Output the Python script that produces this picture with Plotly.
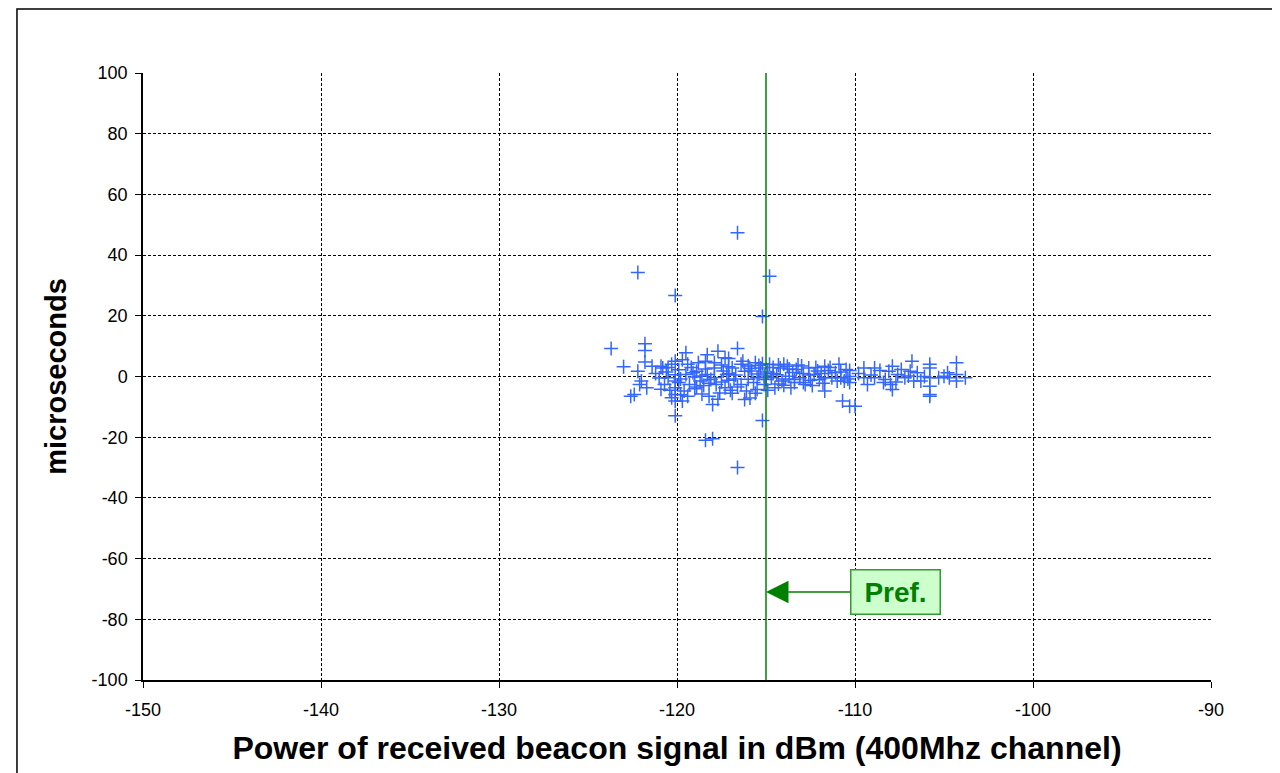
import plotly.graph_objects as go

# ---- data ----
power_dbm = [
    -116.6, -122.2, -120.1, -114.8, -115.2, -120.1, -118.4, -118.0, -116.6, -115.2,
    -123.7, -121.8, -121.8, -123.0, -121.8, -121.4, -122.2, -122.1, -122.4, -122.6,
    -122.0, -121.7, -120.9, -120.8, -120.3, -120.1, -120.1, -120.1, -120.1, -120.1,
    -120.1, -119.7, -120.5, -120.7, -119.5, -119.4, -119.5, -119.3, -119.6, -118.9,
    -118.7, -118.3, -118.3, -118.2, -118.0, -117.7, -117.9, -117.8, -117.6, -117.3,
    -117.2, -117.3,
    -116.6, -117.1, -117.1, -117.1, -117.0, -116.3, -116.2, -116.4, -116.2, -115.9,
    -115.6, -115.5, -115.5, -115.3, -115.1, -114.8, -114.7, -114.5, -114.2, -114.1,
    -113.8, -113.7, -113.6, -113.3, -113.1, -112.8, -112.6, -112.3, -112.0, -111.7,
    -111.7, -111.7, -111.3, -110.9, -110.8, -110.5, -110.7, -110.3,
    -110.3, -110.3, -110.3, -110.0, -109.5, -109.5, -109.3, -108.9, -108.9, -108.3,
    -108.1, -108.0, -107.9, -107.9, -107.6, -107.4, -107.2, -106.9, -106.8, -106.7,
    -106.3, -105.8, -105.8, -105.8, -105.8, -105.8, -105.8, -105.3, -105.0, -104.8,
    -104.7, -104.3, -104.3, -104.3, -103.8,
    -121.0, -120.6, -120.4, -119.9, -119.8, -119.8, -119.2, -119.0, -119.0, -118.8,
    -118.6, -118.5, -118.4, -118.1, -117.9, -117.5, -117.5, -116.9, -116.8, -116.6,
    -116.0, -116.0, -115.8, -115.7, -115.4, -115.2, -115.0, -114.9, -114.6, -114.4,
    -114.3, -114.0, -113.9, -113.5, -113.4, -113.0, -112.9, -112.5, -112.2, -111.9,
    -111.5, -111.1, -110.6,
    -121.2, -120.9, -120.5, -120.3, -119.9, -119.7, -119.4, -119.1, -118.9, -118.6,
    -118.4, -118.2, -117.9, -117.7, -117.4, -117.1, -116.9, -116.7, -116.4, -116.1,
    -115.9, -115.6, -115.4, -115.1, -114.9, -114.6, -114.3, -114.0, -113.7, -113.4,
    -113.2, -112.9, -112.6, -112.4, -112.1, -111.8, -111.4, -111.0, -110.8, -110.4,
    -109.8, -109.1, -108.6, -108.4, -107.7, -107.0, -106.5, -106.1,
]
offset_us = [
    47.4, 34.3, 26.7, 33.0, 19.8, -12.9, -21.0, -20.5, -30.0, -14.5,
    9.2, 10.8, 8.6, 3.2, 4.8, 3.4, 1.7, -2.6, -5.9, -6.5,
    -1.5, -3.7, 3.4, 2.8, 4.0, 5.0, 0.6, -1.5, -3.7, -5.9,
    -8.1, -8.1, -0.4, -2.6, 7.8, 4.0, 0.7, -2.6, -4.8, 1.7,
    -1.5, 7.2, 0.7, -6.5, -9.2, 8.3, 2.8, -2.6, -5.4, 6.2,
    0.7, -3.7,
    9.2, 5.9, 1.0, -1.2, -4.5, 5.0, 1.7, -2.6, -7.6, -7.1,
    4.5, -0.4, -4.3, 2.8, -2.6, 4.0, -0.4, -3.7, 2.8, -1.5,
    3.4, 0.1, -3.7, 2.3, -0.4, -2.6, 2.8, 0.7, -1.0, 3.4,
    -0.4, -4.8, -0.4, 4.0, -0.4, 2.3, -8.1, -9.8,
    2.0, 0.0, -2.0, -9.8, 2.8, -0.4, -2.6, 2.8, -0.4, -1.0,
    1.7, -2.6, 3.4, -4.3, 0.7, 2.3, -0.4, 1.7, 5.0, -1.5,
    -1.5, 4.0, 2.8, -0.4, -3.2, -5.9, -6.5, -0.4, 0.1, 1.2,
    -0.4, 4.5, 0.7, -1.5, -0.4,
    -0.5, 1.5, -4.5, 2.2, -0.8, -6.0, 3.0, -0.2, -4.0, 4.5,
    0.2, -3.0, 2.5, -1.0, -0.3, 3.8, -1.8, 2.8, -0.8, -3.5,
    3.5, -0.9, 1.8, -2.0, 0.8, 4.2, -1.0, 1.5, 3.0, 0.6,
    -2.5, 4.0, -0.8, 1.3, -2.0, 3.5, 1.0, -1.2, 3.0, 1.0,
    2.0, 1.2, -1.5,
    1.0, -4.2, 3.0, -7.0, -2.0, 5.5, -6.5, 1.2, -3.5, -5.8,
    5.0, -2.2, 4.5, -7.5, 1.8, 3.2, -5.5, 0.5, 4.0, -4.8,
    2.6, -5.5, 3.6, 0.2, -4.5, 1.0, 3.8, -2.9, 2.5, -1.0,
    3.8, -2.0, 0.5, -3.0, 1.8, -2.2, 3.0, -1.5, 1.5, -0.8,
    1.0, 0.5, 2.0, -2.0, -1.8, 0.2, 1.2, 0.0,
]

x_ticks = [-150, -140, -130, -120, -110, -100, -90]
y_ticks = [100, 80, 60, 40, 20, 0, -20, -40, -60, -80, -100]
x_tick_text = [str(v) for v in x_ticks]
y_tick_text = [str(v) for v in y_ticks]

pref_dbm = -115
pref_label_y = -71
pref_label_x = -107.75

x_title = "Power of received beacon signal in dBm (400Mhz channel)"
y_title = "microseconds"

FONT = "Arial, Liberation Sans, sans-serif"

fig = go.Figure()
fig.add_trace(go.Scatter(
    x=power_dbm, y=offset_us, mode="markers",
    marker=dict(symbol="cross-thin", size=10,
                line=dict(color="#3366FF", width=1.5), color="#3366FF"),
    showlegend=False, hoverinfo="x+y",
))

fig.add_shape(type="line", xref="x", yref="paper",
              x0=pref_dbm, x1=pref_dbm, y0=0, y1=1,
              line=dict(color="#008000", width=1.5))

fig.add_annotation(
    x=pref_dbm, y=pref_label_y, xref="x", yref="y",
    ax=pref_label_x, ay=pref_label_y, axref="x", ayref="y",
    text="<b>Pref.</b>", showarrow=True,
    font=dict(family=FONT, size=28, color="#008000"),
    bgcolor="#ccffcc", bordercolor="#339933", borderwidth=1.5, borderpad=0,
    width=88, height=43,
    arrowcolor="#008000", arrowhead=2, arrowsize=3, arrowwidth=1.5,
    standoff=0, startstandoff=0,
)

# outer chart border (right and bottom sides lie outside the picture)
fig.add_shape(type="rect", xref="paper", yref="paper",
              x0=-0.1180, x1=1.075, y0=-0.18, y1=1.1055,
              line=dict(color="black", width=1.5), fillcolor="rgba(0,0,0,0)",
              layer="below")

axis_common = dict(
    showline=True, linecolor="black", linewidth=1.5,
    showgrid=True, gridcolor="black", gridwidth=1, griddash="3px,2px",
    zeroline=False, ticks="outside", ticklen=6, tickcolor="black", tickwidth=1.2,
    tickfont=dict(family=FONT, size=18, color="black"),
    mirror=False, automargin=False,
)

fig.update_xaxes(range=[-150, -90], tickmode="array", tickvals=x_ticks,
                 ticktext=x_tick_text, ticklabelstandoff=7,
                 title=dict(text="<b>" + x_title + "</b>", standoff=17,
                            font=dict(family=FONT, size=32, color="black")),
                 **axis_common)
fig.update_yaxes(range=[-100, 100], tickmode="array", tickvals=y_ticks,
                 ticktext=y_tick_text, ticklabelstandoff=4,
                 title=dict(text="<b>" + y_title + "</b>", standoff=16,
                            font=dict(family=FONT, size=29, color="black")),
                 **axis_common)

# page body has an 8px margin, so the figure is sized to end at the window edge
fig.update_layout(
    width=1272, height=765,
    margin=dict(l=135, r=69, t=65, b=93, pad=0),
    paper_bgcolor="white", plot_bgcolor="white",
    font=dict(family=FONT, color="black"),
)

fig.write_html("out.html")
